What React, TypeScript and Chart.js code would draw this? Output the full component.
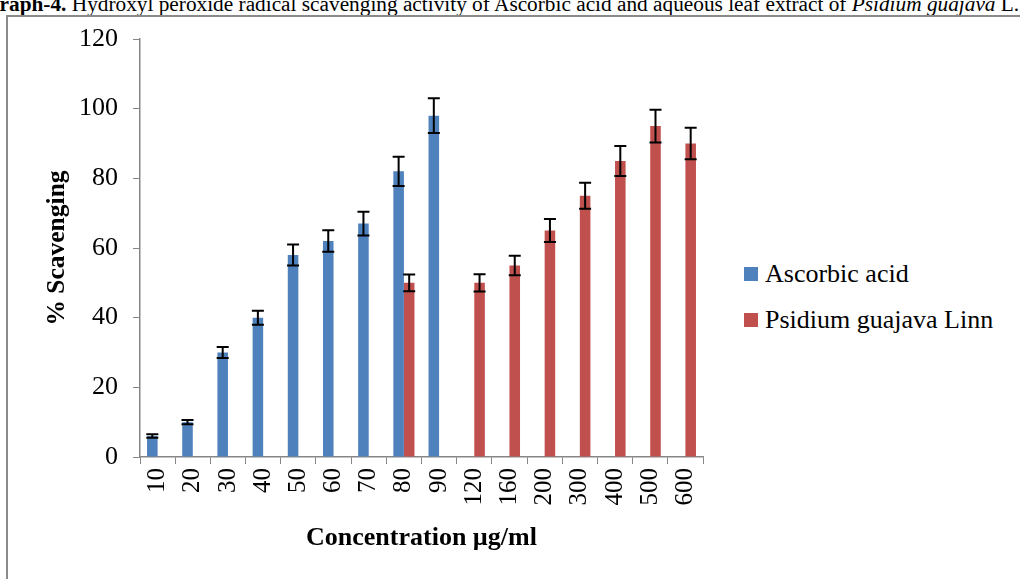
import React, { useEffect, useRef } from "react";
import { Chart, registerables } from "chart.js";

Chart.register(...registerables);

const categories = ["10", "20", "30", "40", "50", "60", "70", "80", "90", "120", "160", "200", "300", "400", "500", "600"];
const ascorbicValues = [6, 10, 30, 40, 58, 62, 67, 82, 98, 0, 0, 0, 0, 0, 0, 0];
const ascorbicErrors = [0.5, 0.6, 1.6, 2.0, 3.0, 3.1, 3.4, 4.2, 5.0, 0, 0, 0, 0, 0, 0, 0];
const psidiumValues = [0, 0, 0, 0, 0, 0, 0, 50, 0, 50, 55, 65, 75, 85, 95, 90];
const psidiumErrors = [0, 0, 0, 0, 0, 0, 0, 2.4, 0, 2.5, 2.8, 3.3, 3.7, 4.3, 4.7, 4.5];
const yTicks = [0, 20, 40, 60, 80, 100, 120];

const seriesNames = ["Ascorbic acid", "Psidium guajava Linn"];
const seriesColors = ["#4F81BD", "#C0504D"];

const FONT = "'Liberation Serif', 'Times New Roman', serif";

const errorBarPlugin = {
  id: "errorBars",
  afterDatasetsDraw(chart: any) {
    const ctx = chart.ctx;
    const yScale = chart.scales.y;
    const errs = [ascorbicErrors, psidiumErrors];
    ctx.save();
    ctx.strokeStyle = "#000";
    ctx.lineWidth = 2;
    chart.data.datasets.forEach((ds: any, di: number) => {
      const meta = chart.getDatasetMeta(di);
      meta.data.forEach((bar: any, i: number) => {
        const e = errs[di][i];
        const v = ds.data[i];
        if (!e || !v) return;
        const x = bar.x;
        const yt = yScale.getPixelForValue(v + e);
        const yb = yScale.getPixelForValue(v - e);
        ctx.beginPath();
        ctx.moveTo(x, yt);
        ctx.lineTo(x, yb);
        ctx.moveTo(x - 6, yt);
        ctx.lineTo(x + 6, yt);
        ctx.moveTo(x - 6, yb);
        ctx.lineTo(x + 6, yb);
        ctx.stroke();
      });
    });
    ctx.restore();
  },
};

export default function App() {
  const canvasRef = useRef<HTMLCanvasElement | null>(null);

  useEffect(() => {
    if (!canvasRef.current) return;
    const chart = new Chart(canvasRef.current, {
      type: "bar",
      data: {
        labels: categories,
        datasets: [
          {
            label: seriesNames[0],
            data: ascorbicValues,
            backgroundColor: seriesColors[0],
            borderWidth: 0,
            categoryPercentage: 0.6,
            barPercentage: 1.0,
          },
          {
            label: seriesNames[1],
            data: psidiumValues,
            backgroundColor: seriesColors[1],
            borderWidth: 0,
            categoryPercentage: 0.6,
            barPercentage: 1.0,
          },
        ],
      },
      options: {
        responsive: false,
        animation: false,
        devicePixelRatio: 1,
        layout: { padding: { top: 39, right: 17, left: 0, bottom: 0 } },
        plugins: {
          legend: { display: false },
          tooltip: { enabled: false },
          title: { display: false },
        },
        scales: {
          x: {
            grid: {
              display: true,
              drawOnChartArea: false,
              drawTicks: true,
              tickLength: 7,
              color: "#868686",
              offset: true,
            },
            border: { display: true, color: "#868686", width: 1.5 },
            ticks: {
              minRotation: 90,
              maxRotation: 90,
              autoSkip: false,
              padding: 4,
              color: "#000",
              font: { family: FONT, size: 25 },
            },
            title: {
              display: true,
              text: "Concentration µg/ml",
              color: "#000",
              font: { family: FONT, size: 26, weight: "bold" },
              padding: { top: 0, bottom: 25 },
            },
            afterFit(scale: any) {
              scale.height = 579 - 457;
            },
          },
          y: {
            min: 0,
            max: 120,
            afterBuildTicks(scale: any) {
              scale.ticks = yTicks.map((v) => ({ value: v }));
            },
            grid: {
              display: true,
              drawOnChartArea: false,
              drawTicks: true,
              tickLength: 7,
              color: "#868686",
            },
            border: { display: true, color: "#868686", width: 1.5 },
            ticks: {
              padding: 15,
              color: "#000",
              font: { family: FONT, size: 26 },
            },
            title: {
              display: true,
              text: "% Scavenging",
              color: "#000",
              font: { family: FONT, size: 25.5, weight: "bold" },
              padding: { top: 42, bottom: 0 },
            },
            afterFit(scale: any) {
              scale.width = 140;
            },
          },
        },
      },
      plugins: [errorBarPlugin],
    });
    return () => chart.destroy();
  }, []);

  return (
    <div
      style={{
        position: "fixed",
        left: 0,
        top: 0,
        width: 1020,
        height: 579,
        overflow: "hidden",
        background: "#fff",
      }}
    >
      <div
        style={{
          position: "absolute",
          left: -17,
          top: -6,
          whiteSpace: "nowrap",
          fontFamily: FONT,
          fontSize: 21.3,
          lineHeight: "20px",
          color: "#000",
        }}
      >
        <b>Graph-4.</b> Hydroxyl peroxide radical scavenging activity of Ascorbic acid and aqueous leaf extract of{" "}
        <i>Psidium guajava</i> L.
      </div>
      <div
        style={{
          position: "absolute",
          left: 6,
          top: 15,
          width: 1100,
          height: 700,
          borderLeft: "2px solid #8a8a8a",
          borderTop: "2px solid #8a8a8a",
        }}
      />
      <canvas
        ref={canvasRef}
        width={720}
        height={579}
        style={{ position: "absolute", left: 0, top: 0, width: 720, height: 579 }}
      />
      {seriesNames.map((name, i) => (
        <div
          key={name}
          style={{
            position: "absolute",
            left: 744,
            top: 259 + i * 46,
            display: "flex",
            alignItems: "center",
            fontFamily: FONT,
            fontSize: 26,
            lineHeight: "30px",
            whiteSpace: "nowrap",
          }}
        >
          <span
            style={{
              display: "inline-block",
              width: 14,
              height: 14,
              background: seriesColors[i],
              marginRight: 7,
            }}
          />
          <span>{name}</span>
        </div>
      ))}
    </div>
  );
}
